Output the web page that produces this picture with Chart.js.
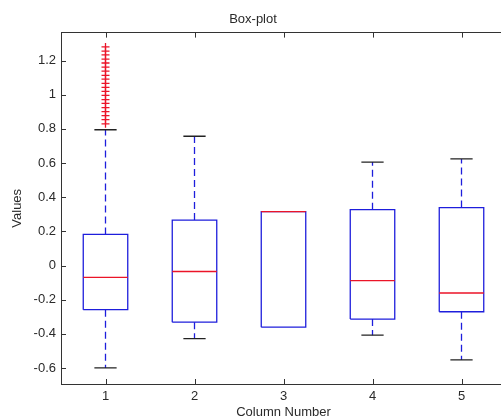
<!DOCTYPE html>
<html>
<head>
<meta charset="utf-8">
<script src="https://cdn.jsdelivr.net/npm/chart.js@4/dist/chart.umd.min.js"></script>
<style>
  html, body { margin: 0; padding: 0; background: #fff; overflow: hidden; }
  #wrap { width: 566px; height: 420px; }
</style>
</head>
<body>
<div id="wrap"><canvas id="c" width="566" height="420"></canvas></div>
<script>
// ---- data ----
const categories   = [1, 2, 3, 4, 5];
const columnLabels = ['1', '2', '3', '4', '5'];
const whiskerLow   = [-0.600, -0.428, -0.361, -0.408, -0.553];
const q1           = [-0.259, -0.332, -0.361, -0.314, -0.271];
const medians      = [-0.069, -0.035,  0.315, -0.088, -0.161];
const q3           = [ 0.182,  0.266,  0.315,  0.327,  0.339];
const whiskerHigh  = [ 0.795,  0.757,  0.315,  0.606,  0.624];
const outlierColumn = 1;
const outlierValues = [1.280, 1.256, 1.233, 1.209, 1.186, 1.162, 1.138, 1.114, 1.091, 1.067,
                       1.043, 1.020, 0.996, 0.972, 0.949, 0.925, 0.901, 0.878, 0.854, 0.830];
const yTicks      = [-0.6, -0.4, -0.2, 0, 0.2, 0.4, 0.6, 0.8, 1, 1.2];
const yTickLabels = ['-0.6', '-0.4', '-0.2', '0', '0.2', '0.4', '0.6', '0.8', '1', '1.2'];
const xLimits = [0.5, 5.5];
const yLimits = [-0.694, 1.364];

// ---- style constants ----
const BOX_HALF = 0.25, CAP_HALF = 0.125;
const BLUE = 'rgb(30,30,220)', RED = 'rgb(235,20,40)', BLACK = '#222', AXIS = '#333', TEXT = '#2a2a2a';
const FONT = "'Liberation Sans', Arial, sans-serif";
const LW = 1.3;

// ---- build line tables from the data ----
const gap = { x: null, y: null };
const boxPts = [], medPts = [], capPts = [], whiskPts = [];
categories.forEach((c, i) => {
  boxPts.push({x: c - BOX_HALF, y: q1[i]}, {x: c + BOX_HALF, y: q1[i]}, {x: c + BOX_HALF, y: q3[i]},
              {x: c - BOX_HALF, y: q3[i]}, {x: c - BOX_HALF, y: q1[i]}, gap);
  medPts.push({x: c - BOX_HALF, y: medians[i]}, {x: c + BOX_HALF, y: medians[i]}, gap);
  if (whiskerHigh[i] > q3[i]) {
    whiskPts.push({x: c, y: q3[i]}, {x: c, y: whiskerHigh[i]}, gap);
    capPts.push({x: c - CAP_HALF, y: whiskerHigh[i]}, {x: c + CAP_HALF, y: whiskerHigh[i]}, gap);
  }
  if (whiskerLow[i] < q1[i]) {
    whiskPts.push({x: c, y: q1[i]}, {x: c, y: whiskerLow[i]}, gap);
    capPts.push({x: c - CAP_HALF, y: whiskerLow[i]}, {x: c + CAP_HALF, y: whiskerLow[i]}, gap);
  }
});
const outPts = outlierValues.map(v => ({x: outlierColumn, y: v}));

const lineDs = (data, color, order, dash) => ({
  type: 'scatter', data, showLine: true, spanGaps: false, pointRadius: 0, pointHoverRadius: 0,
  borderColor: color, borderWidth: LW, borderDash: dash || [], fill: false, order
});

const innerTicks = {
  id: 'innerTicks',
  afterDatasetsDraw(chart) {
    const {ctx, chartArea: a, scales: {x, y}} = chart;
    ctx.save();
    ctx.strokeStyle = AXIS; ctx.lineWidth = 1; ctx.beginPath();
    x.ticks.forEach(t => {
      const px = Math.round(x.getPixelForValue(t.value)) + 0.5;
      ctx.moveTo(px, a.bottom); ctx.lineTo(px, a.bottom - 5);
      ctx.moveTo(px, a.top);    ctx.lineTo(px, a.top + 5);
    });
    y.ticks.forEach(t => {
      const py = Math.round(y.getPixelForValue(t.value)) + 0.5;
      ctx.moveTo(a.left, py);  ctx.lineTo(a.left + 5, py);
      ctx.moveTo(a.right, py); ctx.lineTo(a.right - 5, py);
    });
    ctx.stroke(); ctx.restore();
  }
};

new Chart(document.getElementById('c'), {
  type: 'scatter',
  data: {
    datasets: [
      lineDs(medPts, RED, 0),
      lineDs(boxPts, BLUE, 1),
      lineDs(capPts, BLACK, 2),
      lineDs(whiskPts, BLUE, 3, [7, 4]),
      { type: 'scatter', data: outPts, pointStyle: 'cross', pointRadius: 4, pointHoverRadius: 4,
        borderColor: RED, backgroundColor: RED, borderWidth: LW, showLine: false, order: 4 }
    ]
  },
  options: {
    responsive: false, animation: false, events: [],
    layout: { padding: { left: 0, right: 60, top: 0, bottom: 0 } },
    plugins: {
      legend: { display: false }, tooltip: { enabled: false },
      title: { display: true, text: 'Box-plot', color: TEXT,
               font: { family: FONT, size: 13, weight: 'normal', lineHeight: 1.2 },
               padding: { top: 12, bottom: 5 } }
    },
    scales: {
      x: {
        type: 'linear', position: 'bottom', min: xLimits[0], max: xLimits[1],
        afterBuildTicks: s => { s.ticks = categories.map(v => ({value: v})); },
        afterFit: s => { s.height = 36; },
        grid: { drawOnChartArea: false, drawTicks: false },
        border: { display: true, color: AXIS, width: 1 },
        ticks: { color: TEXT, padding: 5, maxRotation: 0,
                 font: { family: FONT, size: 13 },
                 callback: (v) => columnLabels[categories.indexOf(v)] },
        title: { display: true, text: 'Column Number', color: TEXT,
                 font: { family: FONT, size: 13, lineHeight: 1.2 }, padding: { top: 0, bottom: 0 } }
      },
      xTop: {
        type: 'linear', position: 'top', min: xLimits[0], max: xLimits[1],
        afterFit: s => { s.height = 0; },
        grid: { drawOnChartArea: false, drawTicks: false },
        border: { display: true, color: AXIS, width: 1 },
        ticks: { display: false }
      },
      y: {
        type: 'linear', position: 'left', min: yLimits[0], max: yLimits[1],
        afterBuildTicks: s => { s.ticks = yTicks.map(v => ({value: v})); },
        afterFit: s => { s.width = 61; },
        grid: { drawOnChartArea: false, drawTicks: false },
        border: { display: true, color: AXIS, width: 1 },
        ticks: { color: TEXT, padding: 5, font: { family: FONT, size: 13 },
                 callback: (v) => yTickLabels[yTicks.indexOf(v)] },
        title: { display: true, text: 'Values', color: TEXT,
                 font: { family: FONT, size: 13, lineHeight: 1.2 }, padding: { top: 10, bottom: 0 } }
      }
    }
  },
  plugins: [innerTicks]
});
</script>
</body>
</html>
